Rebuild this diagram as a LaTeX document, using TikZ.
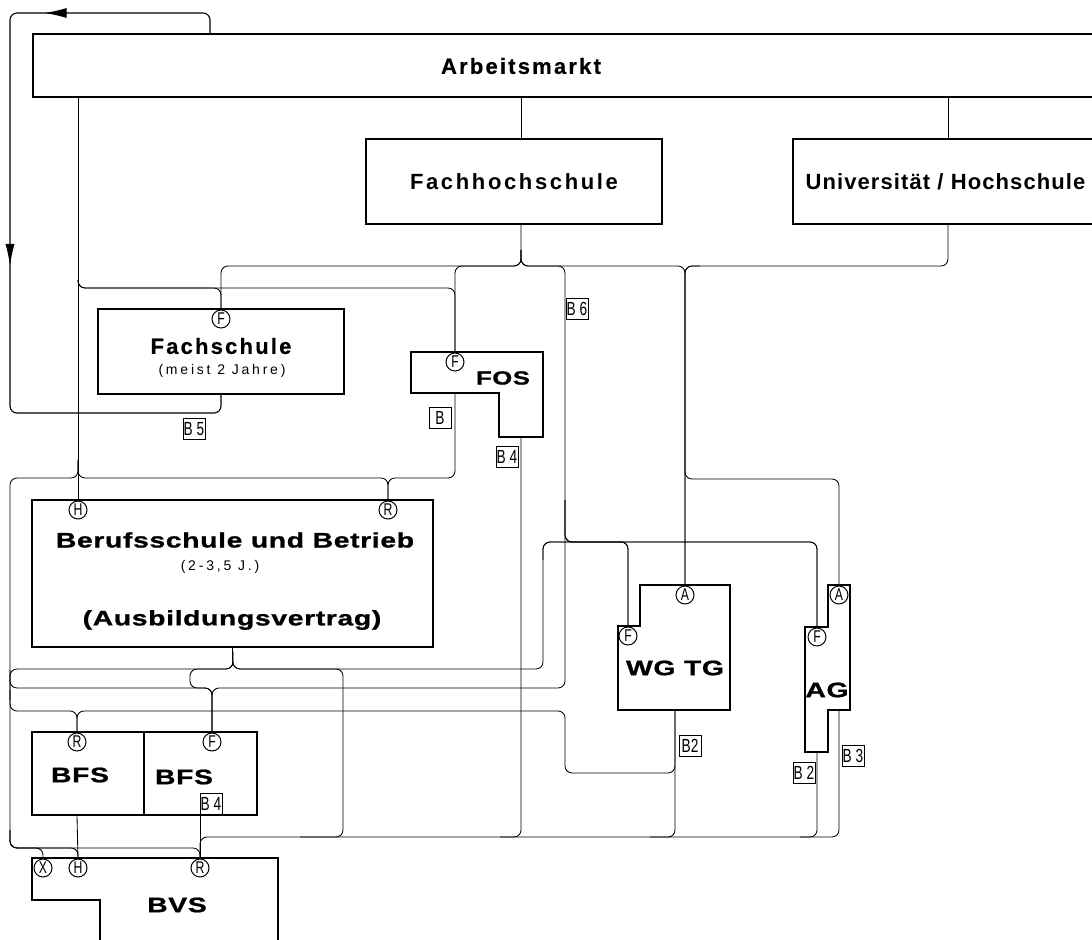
\documentclass[tikz,border=0pt]{standalone}
\usepackage{fontspec}
\setmainfont{Liberation Sans}
\newfontfamily\amfont[LetterSpace=10, FakeBold=0.6]{Liberation Sans Bold}
\newfontfamily\fhfont[LetterSpace=12]{Liberation Sans Bold}
\newfontfamily\unifont[LetterSpace=5]{Liberation Sans Bold}
\newfontfamily\widefont[FakeStretch=1.35, LetterSpace=3, FakeBold=1]{Liberation Sans Bold}
\newfontfamily\spacedfont[LetterSpace=20]{Liberation Sans}
\newfontfamily\narrowfont[FakeStretch=0.72]{Liberation Sans}
\newcommand{\portfont}{\narrowfont\fontsize{8.5}{8.5}\selectfont}
\newcommand{\blabfont}{\narrowfont\fontsize{9.5}{9.5}\selectfont}
\newcommand{\headfont}{\fontsize{11}{13}\selectfont}
\newcommand{\widesize}{\widefont\fontsize{10.5}{12}\selectfont}
\newcommand{\smallsize}{\spacedfont\fontsize{7}{8}\selectfont}
\usetikzlibrary{arrows.meta, decorations.markings}

\begin{document}
\begin{tikzpicture}[x=0.5pt, y=-0.5pt,
  box/.style={draw, line width=1.1pt, inner sep=0pt},
  wire/.style={line width=0.42pt, rounded corners=3.5pt},
  port/.style={circle, draw, line width=0.5pt, inner sep=0pt, minimum size=9pt, font=\portfont},
  blab/.style={draw, line width=0.5pt, inner sep=0pt, minimum width=11pt, minimum height=10.5pt, font=\blabfont},
  loopmarks/.style={postaction={decorate}, decoration={markings,
    mark=at position 0.218 with {\arrow{Latex[length=11pt,width=5pt]}},
    mark=at position 0.558 with {\arrow{Latex[length=11pt,width=4.5pt]}}}}]
  \useasboundingbox (0,0) rectangle (1092,940);
  \clip (0,0) rectangle (1092,940);

  % --- Arbeitsmarkt und Hochschulen ---
  \node[box, anchor=north west, minimum width=539pt, minimum height=31.5pt] (am) at (32,33) {};
  \node[font=\amfont\headfont] (amTxt) at (521,66) {Arbeitsmarkt};
  \node[box, line width=0.8pt, minimum width=148pt, minimum height=42.5pt, font=\fhfont\headfont] (fh) at (514,181.5) {Fachhochschule};
  \node[box, line width=0.8pt, minimum width=152.5pt, minimum height=42.5pt, font=\unifont\headfont] (uni) at (945.5,181.5) {Universität / Hochschule};

  % --- Fachschule, FOS ---
  \node[box, minimum width=123pt, minimum height=42.5pt] (fs) at (221,351.5) {};
  \node[font=\amfont\headfont] (fsTxt) at (221,346) {Fachschule};
  \node[font=\smallsize] (fsSub) at (222,371) {(meist 2 Jahre)};
  \draw[line width=1.1pt] (411,352) -- (543,352) -- (543,437) -- (499,437) -- (499,393) -- (411,393) -- cycle;
  \node[font=\widefont\fontsize{9.5}{11}\selectfont] (fosTxt) at (503,378) {FOS};

  % --- Berufsschule und Betrieb ---
  \node[box, minimum width=200.5pt, minimum height=73.5pt] (bs) at (232.5,573.5) {};
  \node[font=\widesize] (bsTxt) at (235,540) {Berufsschule und Betrieb};
  \node[font=\smallsize] (bsSub) at (220,567) {(2-3,5 J.)};
  \node[font=\widesize] (bsVtr) at (232,620) {(Ausbildungsvertrag)};

  % --- BFS, BVS ---
  \node[box, minimum width=56pt, minimum height=41.5pt] (bfsR) at (88,773.5) {};
  \node[box, minimum width=56.5pt, minimum height=41.5pt] (bfsF) at (200.5,773.5) {};
  \node[font=\widesize] (bfsRTxt) at (80,775) {BFS};
  \node[font=\widesize] (bfsFTxt) at (184,777) {BFS};
  \draw[line width=1.1pt] (100,950) -- (100,900) -- (32,900) -- (32,858) -- (278,858) -- (278,950);
  \node[font=\widesize] (bvsTxt) at (177,905) {BVS};

  % --- WG TG, AG ---
  \draw[line width=1.1pt] (640,585) -- (730,585) -- (730,710) -- (618,710) -- (618,626) -- (640,626) -- cycle;
  \node[font=\widesize] (wgTxt) at (675,668) {WG TG};
  \draw[line width=1.1pt] (828,585) -- (850,585) -- (850,710) -- (828,710) -- (828,752) -- (805,752) -- (805,627) -- (828,627) -- cycle;
  \node[font=\widesize] (agTxt) at (827,690) {AG};

  % Abschluesse
  \node[port] (fsF) at (221,319) {F};
  \node[port] (fosF) at (455,362) {F};
  \node[port] (bsH) at (78,510) {H};
  \node[port] (bsR) at (388,510) {R};
  \node[port] (bfsRp) at (77,742) {R};
  \node[port] (bfsFp) at (212,742) {F};
  \node[port] (bvsX) at (43,868) {X};
  \node[port] (bvsH) at (78,868) {H};
  \node[port] (bvsR) at (200,868) {R};
  \node[port] (wgA) at (685,595) {A};
  \node[port] (wgF) at (628,636) {F};
  \node[port] (agA) at (839,595) {A};
  \node[port] (agF) at (817,637) {F};

  % Bedingungen
  \node[blab] (b5) at (194,429) {B 5};
  \node[blab] (bFos) at (440,418) {B};
  \node[blab] (b4Fos) at (507,457) {B 4};
  \node[blab] (b6) at (577,309) {B 6};
  \node[blab] (b2Wg) at (690,746) {B2};
  \node[blab] (b2Ag) at (804,773) {B 2};
  \node[blab] (b3) at (853,756) {B 3};
  \node[blab] (b4Bfs) at (211,804) {B 4};

  % Anschlusspunkte
  \coordinate (amTop) at (210,33);
  \coordinate (fhN) at (521,139);
  \coordinate (fhS) at (521,224);
  \coordinate (uniN) at (948,139);
  \coordinate (uniS) at (948,224);
  \coordinate (fosB1) at (455,393);
  \coordinate (fosB2) at (521,437);
  \coordinate (wgB) at (675,710);
  \coordinate (agB1) at (817,752);
  \coordinate (agB2) at (839,710);

  % --- Verbindungen oben ---
  \draw[wire, line width=0.55pt, loopmarks] (amTop) -- (210,13) -- (10,13) -- (10,413) -| (fs.south);
  \draw[wire] (am.south -| fhN) -- (fhN);
  \draw[wire] (am.south -| uniN) -- (uniN);
  \draw[wire] (am.south -| bsH) -- (bsH.north);
  \draw[wire] (78,280) -- (78,288) -| (fsF.north);
  \draw[wire] (78,280) -- (78,288) -| (fosF.north);
  \draw[wire] (fhS) -- (521,266) -| (fsF.north);
  \draw[wire] (521,250) -- (521,266) -| (fosF.north);
  \draw[wire] (521,250) -- (521,266) -| (565,688) -| (bfsFp.north);
  \draw[wire] (521,250) -- (521,266) -| (wgA.north);
  \draw[wire] (uniS) -- (948,266) -| (wgA.north);
  \draw[wire] (700,266) -| (685,479) -| (agA.north);
  \draw[wire] (565,500) -- (565,542) -| (wgF.north);
  \draw[wire] (565,500) -- (565,542) -| (agF.north);

  % --- Verbindungen Mitte ---
  \draw[wire] (fosB1) -- (455,478) -| (bsR.north);
  \draw[wire] (78,460) -- (78,478) -| (bsR.north);
  \draw[wire] (78,460) -- (78,478) -| (10,848) -| (bvsX.north);
  \draw[wire] (10,830) -- (10,848) -| (bvsH.north);
  \draw[wire] (10,830) -- (10,848) -| (bvsR.north);
  \draw[wire] (10,670) -- (10,688) -| (bfsFp.north);
  \draw[wire] (10,690) -- (10,711) -| (bfsRp.north);
  \draw[wire] (bs.south) -- (233,669) -| (543,542) -| (wgF.north);
  \draw[wire] (543,560) -- (543,542) -| (agF.north);
  \draw[wire] (bs.south) -- (233,669) -| (10,700);
  \draw[wire] (bs.south) -- (233,669) -| (343,837) -- (300,837);
  \draw[wire] (bs.south) -- (233,669) -| (190,688) -| (bfsFp.north);

  % --- Verbindungen unten ---
  \draw[wire] (wgB) -- (675,773) -| (565,711) -| (bfsRp.north);
  \draw[wire] (bfsR.south -| bfsRp) -- (bvsH.north);
  \draw[wire] (bfsF.south -| bvsR) -- (bvsR.north);
  \draw[wire] (agB2) -- (839,837) -| (bvsR.north);
  \draw[wire] (agB1) -- (817,837) -- (800,837);
  \draw[wire] (wgB) -- (675,837) -- (650,837);
  \draw[wire] (fosB2) -- (521,837) -- (500,837);
\end{tikzpicture}
\end{document}
